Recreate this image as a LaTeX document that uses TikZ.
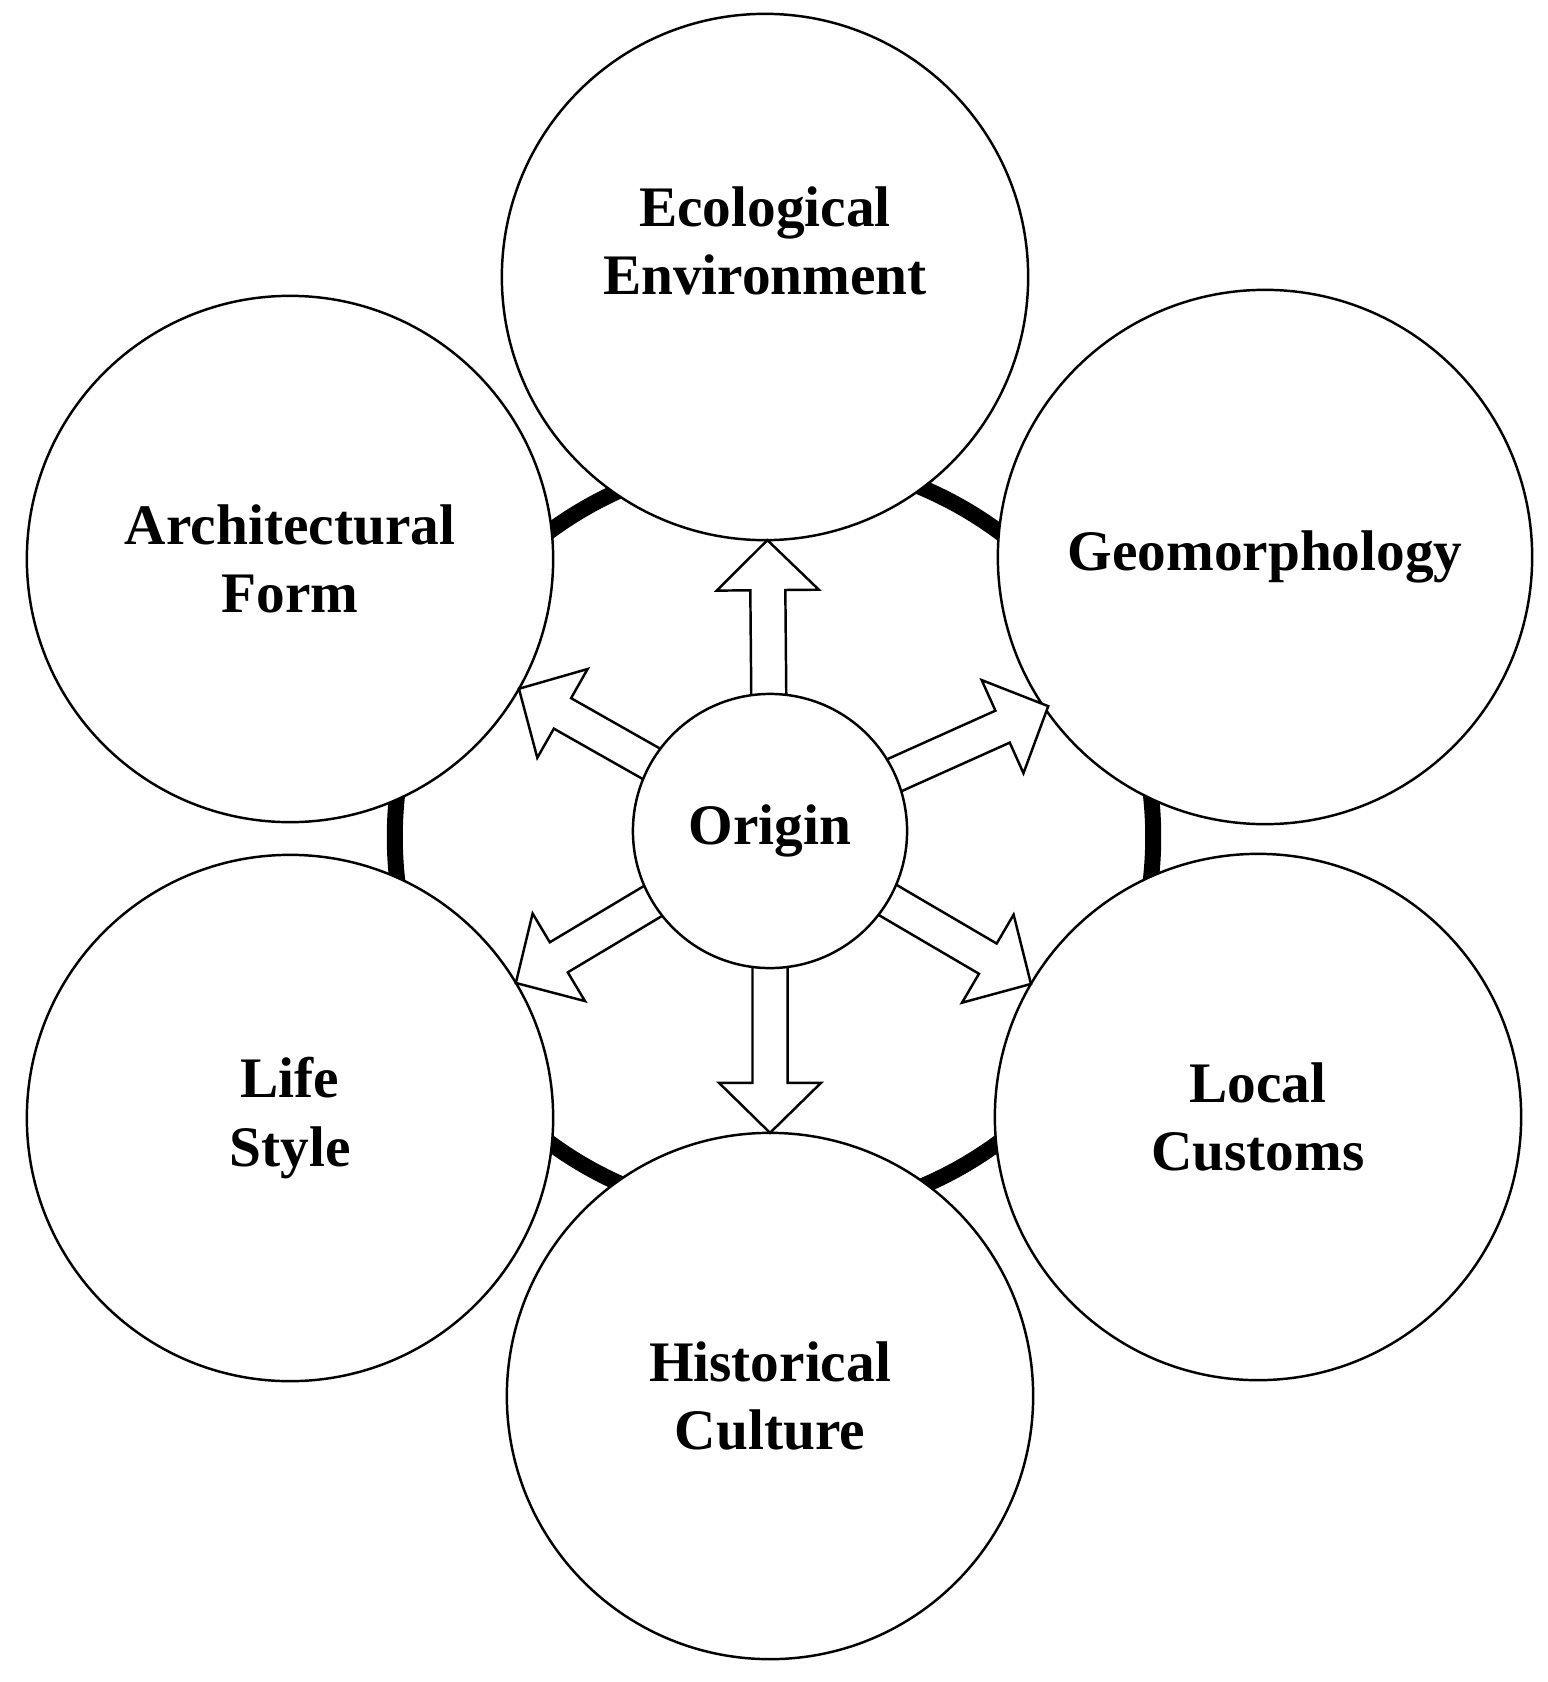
\documentclass[tikz,border=0pt]{standalone}
\usepackage{fontspec}
\setmainfont{Liberation Serif}
\usetikzlibrary{calc}
\tikzset{
  ring/.style={line width=0.16cm},
  bigcirc/.style={circle,draw,fill=white,line width=0.7pt,minimum size=5.26cm,inner sep=0pt,align=center,font=\bfseries\fontsize{16.3}{19.5}\selectfont},
  midcirc/.style={bigcirc,minimum size=2.74cm},
  txt/.style={align=center,font=\bfseries\fontsize{16.3}{19.5}\selectfont},
  blockarrow/.style={draw,fill=white,line width=0.7pt,line join=miter}
}
\newcommand\outerrad{2.63cm}

\begin{document}
\begin{tikzpicture}[x=0.01cm,y=-0.01cm]
\useasboundingbox (0,0) rectangle (1547,1682);
% thick ring, mostly hidden by the circles
\coordinate (ringc) at (774,837);
\draw[ring] (ringc) circle (3.79cm);
\coordinate (oc) at (770,831);
\node[bigcirc] (eco) at (765,277) {};
\node[txt] (ecotxt) at ($(eco)+(0,-36)$) {Ecological\\Environment};
\node[bigcirc,minimum size=5.34cm] (geo) at (1265,557) {Geomorphology};
\node[bigcirc] (arch) at (290,559) {Architectural\\Form};
\node[bigcirc] (life) at (290,1118) {Life\\Style};
\node[bigcirc] (loc) at (1258,1117) {Local\\Customs};
\node[bigcirc] (hist) at (770,1396) {Historical\\Culture};
\coordinate (geoaim) at (1047,707);
% hollow arrows out of the centre
\foreach \t/\a in {eco/oc,geo/geoaim,arch/oc,life/oc,loc/oc,hist/oc}{
  \coordinate (tip) at ($(\t)!\outerrad!(\a)$);
  \coordinate (neck) at ($(tip)!0.5cm!(oc)$);
  \draw[blockarrow] ($(oc)!0.175cm!90:(tip)$) -- ($(neck)!0.175cm!-90:(oc)$) -- ($(neck)!0.51cm!-90:(oc)$) -- (tip)
    -- ($(neck)!0.51cm!90:(oc)$) -- ($(neck)!0.175cm!90:(oc)$) -- ($(oc)!0.175cm!-90:(tip)$) -- cycle;
}
\node[midcirc] (o) at (oc) {Origin};
\end{tikzpicture}
\end{document}
